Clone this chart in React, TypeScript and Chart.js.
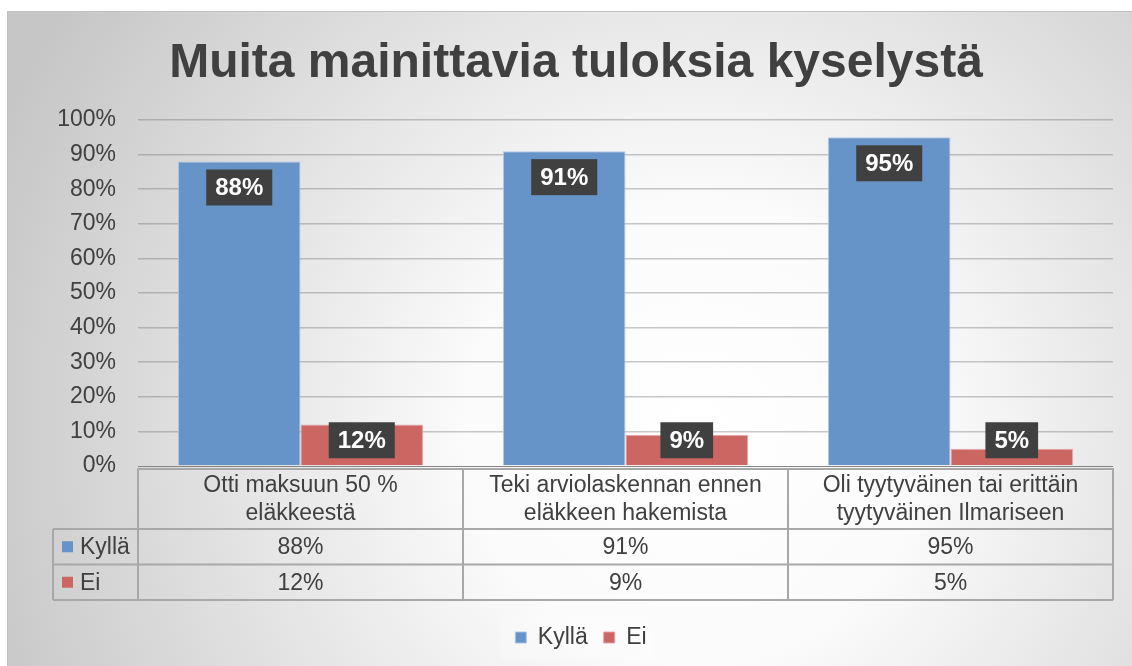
import React, { useEffect, useRef } from 'react';
import { Chart, registerables } from 'chart.js';

Chart.register(...registerables);

const chartTitle = 'Muita mainittavia tuloksia kyselystä';
const categories: string[][] = [
  ['Otti maksuun 50 %', 'eläkkeestä'],
  ['Teki arviolaskennan ennen', 'eläkkeen hakemista'],
  ['Oli tyytyväinen tai erittäin', 'tyytyväinen Ilmariseen'],
];
const seriesNames = ['Kyllä', 'Ei'];
const kyllaValues = [88, 91, 95];
const eiValues = [12, 9, 5];
const yMax = 100;
const yStep = 10;

const FONT = "'Liberation Sans', Arial, sans-serif";
const TEXT = '#404040';
const BLUE = '#6794c8';
const RED = '#cc6663';
const FS = 23;

const backgroundPlugin = {
  id: 'bgGradient',
  afterLayout(chart: any) {
    const tb = chart.titleBlock;
    if (tb) {
      tb.left += 16;
      tb.right += 16;
    }
    const lg = chart.legend;
    if (lg) {
      lg.left += 21;
      lg.right += 21;
    }
  },
  beforeDraw(chart: any) {
    const { ctx, width, height } = chart;
    ctx.save();
    const g = ctx.createRadialGradient(690, 420, 0, 690, 420, 760);
    g.addColorStop(0, '#ffffff');
    g.addColorStop(0.3, '#fbfbfb');
    g.addColorStop(1, '#c6c6c6');
    ctx.fillStyle = g;
    ctx.fillRect(0, 0, width, height);
    ctx.strokeStyle = '#c2c2c2';
    ctx.lineWidth = 1;
    ctx.beginPath();
    ctx.moveTo(0.5, height);
    ctx.lineTo(0.5, 0.5);
    ctx.lineTo(width, 0.5);
    ctx.stroke();
    const lg = chart.legend;
    if (lg && lg.legendHitBoxes && lg.legendHitBoxes.length) {
      const hb = lg.legendHitBoxes;
      const l = Math.min(...hb.map((h: any) => h.left)) - 16;
      const r = Math.max(...hb.map((h: any) => h.left + h.width)) + 6;
      const t = Math.min(...hb.map((h: any) => h.top)) - 10;
      const b = Math.max(...hb.map((h: any) => h.top + h.height)) + 10;
      ctx.fillStyle = 'rgba(255,255,255,0.22)';
      ctx.fillRect(l, t, r - l, b - t);
    }
    ctx.restore();
  },
};

const tablePlugin = {
  id: 'dataTable',
  afterDraw(chart: any) {
    const { ctx, chartArea } = chart;
    const xScale = chart.scales.x;
    const n = categories.length;
    const cw = (chartArea.right - chartArea.left) / n;
    const top = chartArea.bottom + 2;
    const headerH = 61;
    const rowH = 35.5;
    const leftCol = 46;
    const bottom = top + headerH + rowH * 2;
    ctx.save();
    ctx.strokeStyle = '#858585';
    ctx.lineWidth = 1;
    ctx.beginPath();
    ctx.moveTo(chartArea.left, chartArea.bottom + 0.5);
    ctx.lineTo(chartArea.right, chartArea.bottom + 0.5);
    ctx.stroke();

    ctx.strokeStyle = '#a8a8a8';
    ctx.lineWidth = 2;
    ctx.beginPath();
    ctx.moveTo(chartArea.left, top + 1);
    ctx.lineTo(chartArea.right, top + 1);
    for (let r = 0; r <= 2; r++) {
      const y = top + headerH + rowH * r;
      ctx.moveTo(leftCol, y);
      ctx.lineTo(chartArea.right, y);
    }
    for (let i = 0; i <= n; i++) {
      const x = chartArea.left + cw * i;
      ctx.moveTo(x, top);
      ctx.lineTo(x, bottom);
    }
    ctx.moveTo(leftCol, top + headerH);
    ctx.lineTo(leftCol, bottom);
    ctx.stroke();

    ctx.fillStyle = TEXT;
    ctx.font = `${FS}px ${FONT}`;
    ctx.textAlign = 'center';
    ctx.textBaseline = 'middle';
    categories.forEach((lines, i) => {
      const cx = xScale.getPixelForValue(i);
      const mid = top + headerH / 2;
      lines.forEach((ln, j) => {
        ctx.fillText(ln, cx, mid + 1 + (j - (lines.length - 1) / 2) * 28);
      });
    });
    const rows = [kyllaValues, eiValues];
    const colors = [BLUE, RED];
    rows.forEach((vals, r) => {
      const cy = top + headerH + rowH * r + rowH / 2;
      ctx.fillStyle = colors[r];
      ctx.fillRect(leftCol + 9, cy - 5.5, 11, 11);
      ctx.fillStyle = TEXT;
      ctx.textAlign = 'left';
      ctx.fillText(seriesNames[r], leftCol + 27, cy + 1);
      ctx.textAlign = 'center';
      vals.forEach((v, i) => {
        ctx.fillText(`${v}%`, xScale.getPixelForValue(i), cy + 1);
      });
    });
    ctx.restore();
  },
};

const labelPlugin = {
  id: 'boxLabels',
  afterDatasetsDraw(chart: any) {
    const { ctx } = chart;
    ctx.save();
    ctx.font = `bold 24px ${FONT}`;
    ctx.textAlign = 'center';
    ctx.textBaseline = 'middle';
    chart.data.datasets.forEach((ds: any, di: number) => {
      const meta = chart.getDatasetMeta(di);
      meta.data.forEach((el: any, i: number) => {
        const txt = `${ds.data[i]}%`;
        const w = ctx.measureText(txt).width + 18;
        const h = 36;
        const t = Math.min(el.y + 8, el.base - 7 - h);
        ctx.fillStyle = '#404040';
        ctx.fillRect(el.x - w / 2, t, w, h);
        ctx.fillStyle = '#ffffff';
        ctx.fillText(txt, el.x, t + h / 2 + 1);
      });
    });
    ctx.restore();
  },
};

export default function App() {
  const ref = useRef<HTMLCanvasElement | null>(null);
  useEffect(() => {
    if (!ref.current) return;
    Chart.defaults.font.family = FONT;
    const chart = new Chart(ref.current, {
      type: 'bar',
      data: {
        labels: categories.map((c) => c.join(' ')),
        datasets: [
          {
            label: seriesNames[0],
            data: kyllaValues,
            backgroundColor: BLUE,
            borderColor: 'rgba(170,196,230,0.9)',
            borderWidth: 1,
            categoryPercentage: 0.754,
            barPercentage: 1.0,
          },
          {
            label: seriesNames[1],
            data: eiValues,
            backgroundColor: RED,
            borderColor: 'rgba(232,160,158,0.9)',
            borderWidth: 1,
            categoryPercentage: 0.754,
            barPercentage: 1.0,
          },
        ],
      },
      options: {
        animation: false,
        responsive: true,
        maintainAspectRatio: false,
        layout: { padding: { left: 0, right: 19, top: 0, bottom: 7 } },
        plugins: {
          title: {
            display: true,
            text: chartTitle,
            color: TEXT,
            font: { family: FONT, size: 48, weight: 'bold' },
            padding: { top: 24, bottom: 27.4 },
          },
          legend: {
            display: true,
            position: 'bottom',
            labels: {
              boxWidth: 11,
              boxHeight: 11,
              color: TEXT,
              font: { family: FONT, size: FS },
              padding: 16,
            },
          },
          tooltip: { enabled: false },
        },
        scales: {
          x: {
            grid: { display: false, drawTicks: false },
            border: { display: false },
            ticks: { display: false },
            afterFit: (s: any) => {
              s.height = 144;
            },
          },
          y: {
            min: 0,
            max: yMax,
            ticks: {
              stepSize: yStep,
              color: TEXT,
              font: { family: FONT, size: FS },
              padding: 22,
              callback: (v: any) => `${v}%`,
            },
            grid: {
              drawTicks: false,
              color: (c: any) => (c.tick && c.tick.value === 0 ? 'rgba(0,0,0,0)' : 'rgba(110,110,110,0.38)'),
              lineWidth: 1.5,
            },
            border: { display: false },
            afterFit: (s: any) => {
              s.width = 131;
            },
          },
        },
      },
      plugins: [backgroundPlugin, labelPlugin, tablePlugin],
    });
    return () => chart.destroy();
  }, []);
  return (
    <div style={{ position: 'fixed', left: 7, top: 11, width: 1125, height: 655 }}>
      <canvas ref={ref} />
    </div>
  );
}
